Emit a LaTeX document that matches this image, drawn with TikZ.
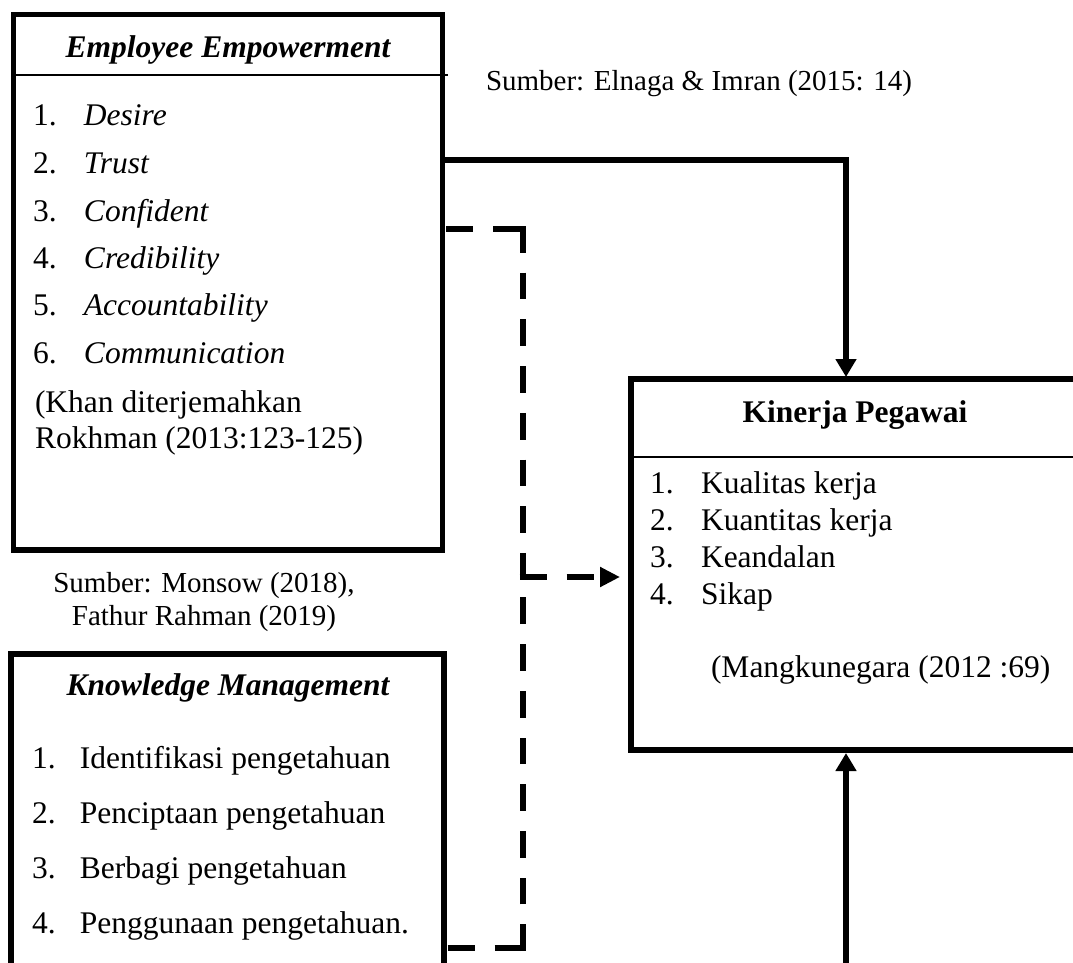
\documentclass[tikz,border=0pt]{standalone}
\usepackage{fontspec}
\setmainfont{Liberation Serif}
\usetikzlibrary{arrows.meta}
\begin{document}
\begin{tikzpicture}[x=1pt,y=-1pt,
  box/.style={draw,line width=5.5pt,inner sep=0pt,outer sep=0pt},
  txt/.style={inner sep=0pt,outer sep=0pt,anchor=base west,font=\fontsize{31.5}{37}\selectfont},
  ttl/.style={inner sep=0pt,outer sep=0pt,anchor=base,font=\fontsize{31.5}{37}\selectfont\bfseries},
  src/.style={inner sep=0pt,outer sep=0pt,anchor=base,font=\fontsize{29}{34}\selectfont},
  conn/.style={line width=6pt,-{Triangle[length=18pt,width=20pt]}},
  hdash/.style={line width=6pt,dash pattern=on 27pt off 20pt},
  vdash/.style={line width=6pt,dash pattern=on 26.7pt off 20pt},
  divider/.style={line width=1.8pt}]
\clip (0,0) rectangle (1073,962);
% boxes
\node[box,minimum width=429pt,minimum height=535.5pt] (ee) at (228,282.25) {};
\node[box,minimum width=433pt,minimum height=356pt] (km) at (227.5,832) {};
\node[box,minimum width=448pt,minimum height=371pt] (kp) at (855,564.5) {};
% dividers
\draw[divider] (ee.west |- 0,75) -- (448,75);
\draw[divider] (kp.west |- 0,457) -- (kp.east |- 0,457);
% Employee Empowerment
\node[ttl] (eet) at (228,57) {\itshape Employee Empowerment};
\node[txt] (ee1) at (33,125) {\makebox[51pt][l]{1.}\textit{Desire}};
\node[txt] (ee2) at (33,173) {\makebox[51pt][l]{2.}\textit{Trust}};
\node[txt] (ee3) at (33,221) {\makebox[51pt][l]{3.}\textit{Confident}};
\node[txt] (ee4) at (33,268) {\makebox[51pt][l]{4.}\textit{Credibility}};
\node[txt] (ee5) at (33,315) {\makebox[51pt][l]{5.}\textit{Accountability}};
\node[txt] (ee6) at (33,363) {\makebox[51pt][l]{6.}\textit{Communication}};
\node[txt] (eer1) at (35,412) {(Khan diterjemahkan};
\node[txt] (eer2) at (35,448) {Rokhman (2013:123-125)};
% sources
\node[src,anchor=base west] (s1) at (486,90) {Sumber: Elnaga \& Imran (2015: 14)};
\node[src] (s2) at (204,592) {Sumber: Monsow (2018),};
\node[src] (s3) at (204,625) {Fathur Rahman (2019)};
% Knowledge Management
\node[ttl] (kmt) at (228,695) {\itshape Knowledge Management};
\node[txt] (km1) at (32,768) {\makebox[48pt][l]{1.}Identifikasi pengetahuan};
\node[txt] (km2) at (32,823) {\makebox[48pt][l]{2.}Penciptaan pengetahuan};
\node[txt] (km3) at (32,878) {\makebox[48pt][l]{3.}Berbagi pengetahuan};
\node[txt] (km4) at (32,933) {\makebox[48pt][l]{4.}Penggunaan pengetahuan.};
% Kinerja Pegawai
\node[ttl] (kpt) at (855,422) {Kinerja Pegawai};
\node[txt] (kp1) at (650,493) {\makebox[51pt][l]{1.}Kualitas kerja};
\node[txt] (kp2) at (650,530) {\makebox[51pt][l]{2.}Kuantitas kerja};
\node[txt] (kp3) at (650,567) {\makebox[51pt][l]{3.}Keandalan};
\node[txt] (kp4) at (650,604) {\makebox[51pt][l]{4.}Sikap};
\node[txt] (kpr) at (711,677) {(Mangkunegara (2012 :69)};
% solid connectors
\draw[conn,shorten >=2pt] (ee.east |- 0,160) -| (kp.north -| 846,0);
\coordinate (below) at (846,990);
\draw[conn,shorten >=3pt] (below) -- (kp.south -| below);
% dashed connectors
\coordinate (dtop) at (522.5,229);
\coordinate (dj) at (522.5,577);
\coordinate (dbot) at (522.5,948);
\draw[hdash,dash phase=43.5pt] (ee.east |- dtop) -- (dtop);
\draw[vdash,shorten <=-3pt,shorten >=-3pt] (dtop) -- (dj);
\draw[hdash,dash phase=43.5pt] (km.east |- dbot) -- (dbot);
\draw[vdash,shorten <=-3pt] (dbot) -- (dj);
\draw[hdash,shorten <=-3pt,shorten >=11pt,-{Triangle[length=20pt,width=19pt]}] (dj) -- (kp.west |- dj);
\end{tikzpicture}
\end{document}
